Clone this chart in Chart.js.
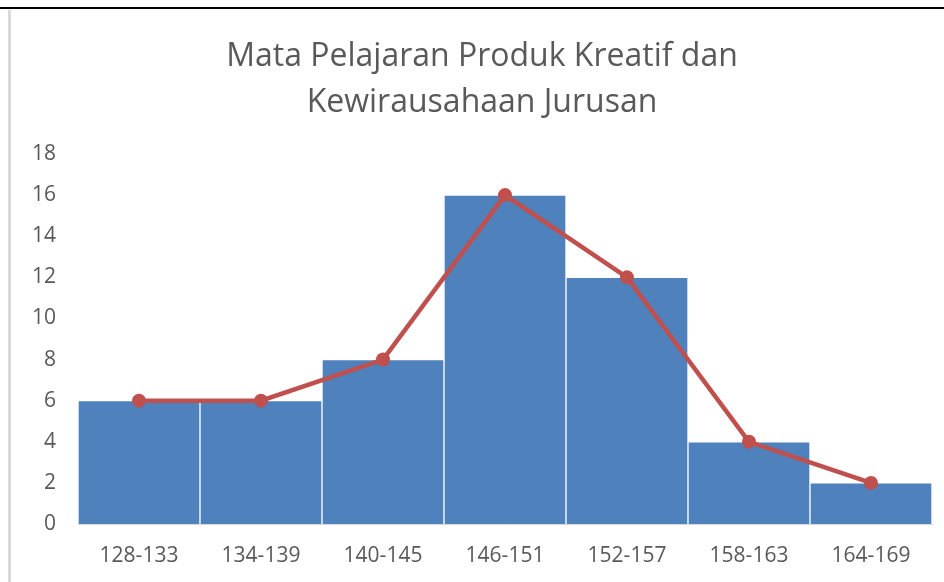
<!DOCTYPE html>
<html>
<head>
<meta charset="utf-8">
<script src="https://cdn.jsdelivr.net/npm/chart.js@4"></script>
<style>
  body { margin: 0; background: #fff; width: 944px; height: 582px; overflow: hidden; position: relative; }
  #topline { position: absolute; left: 0; top: 7px; width: 944px; height: 2px; background: #000; }
  #sideline { position: absolute; left: 8px; top: 10px; width: 3px; height: 572px; background: #dadada; }
  #wrap { position: absolute; left: 11px; top: 10px; width: 933px; height: 572px; }
</style>
</head>
<body>
<div id="topline"></div>
<div id="sideline"></div>
<div id="wrap"><canvas id="myChart"></canvas></div>
<script>
    const titleLines = ["Mata Pelajaran Produk Kreatif dan", "Kewirausahaan Jurusan"];
    const labels = ["128-133", "134-139", "140-145", "146-151", "152-157", "158-163", "164-169"];
    const frekuensi = [6, 6, 8, 16, 12, 4, 2];
    const poligon = [6, 6, 8, 16, 12, 4, 2];
    const yTicks = [0, 2, 4, 6, 8, 10, 12, 14, 16, 18];

    // title drawn by hand so the two lines sit where the original has them
    const titlePlugin = {
      id: "twoLineTitle",
      afterDraw(chart) {
        const ctx = chart.ctx;
        ctx.save();
        ctx.fillStyle = "#595959";
        ctx.font = "32px 'Open Sans'";
        ctx.textAlign = "center";
        ctx.textBaseline = "alphabetic";
        ctx.fillText(titleLines[0], 471, 56);
        ctx.fillText(titleLines[1], 471, 102);
        ctx.restore();
      }
    };

    const data = {
      labels: labels,
      datasets: [
        {
          type: "line",
          label: "Poligon",
          data: poligon,
          borderColor: "#C0504D",
          backgroundColor: "#C0504D",
          borderWidth: 4.5,
          pointRadius: 7,
          pointBorderWidth: 0,
          pointBackgroundColor: "#C0504D",
          tension: 0,
          order: 0,
        },
        {
          type: "bar",
          label: "Frekuensi",
          data: frekuensi,
          backgroundColor: "#4F81BD",
          borderColor: "rgba(255,255,255,0.7)",
          borderWidth: 1,
          barPercentage: 1,
          categoryPercentage: 1,
          order: 1,
        },
      ],
    };

    const config = {
      data: data,
      plugins: [titlePlugin],
      options: {
        responsive: true,
        maintainAspectRatio: false,
        animation: false,
        layout: { padding: { top: 144, right: 12, bottom: 0, left: 0 } },
        plugins: {
          legend: { display: false },
          title: { display: false },
          tooltip: { enabled: false },
        },
        scales: {
          x: {
            grid: { display: false, drawTicks: false },
            border: { display: true, color: "#d9d9d9", width: 1 },
            ticks: { color: "#595959", font: { family: "'Open Sans'", size: 21 }, padding: 19, maxRotation: 0 },
            afterFit(scale) { scale.height = 58; },
          },
          y: {
            min: 0,
            max: 18,
            afterBuildTicks(scale) { scale.ticks = yTicks.map(v => ({ value: v })); },
            grid: { display: false, drawTicks: false },
            border: { display: false },
            ticks: { color: "#595959", font: { family: "'Open Sans'", size: 21 }, padding: 22 },
            afterFit(scale) { scale.width = 67; },
          },
        },
      },
    };

    const myChart = new Chart(document.getElementById("myChart"), config);
</script>
</body>
</html>
